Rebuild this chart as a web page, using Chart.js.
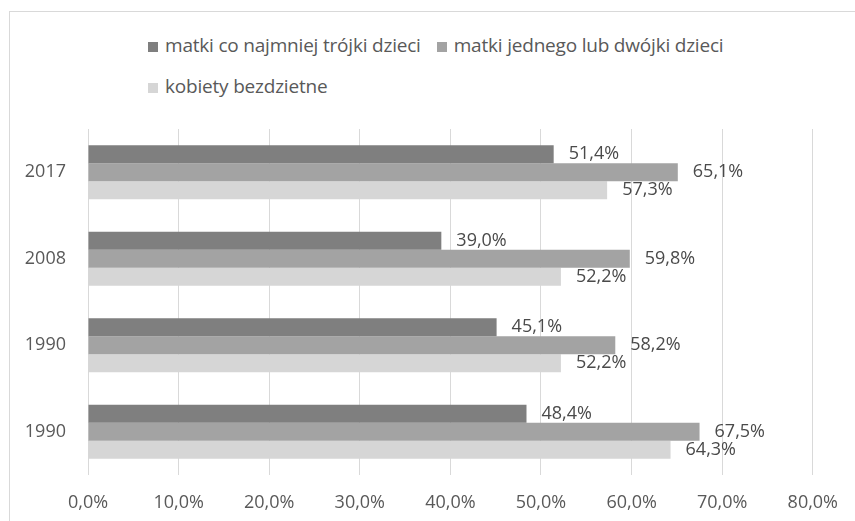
<!DOCTYPE html>
<html>
<head>
<meta charset="utf-8">
<script src="https://cdn.jsdelivr.net/npm/chart.js@4.4.0/dist/chart.umd.min.js"></script>
<style>
  body { margin: 0; background: #fff; font-family: "Open Sans", sans-serif; }
  #wrap { position: relative; width: 855px; height: 521px; overflow: hidden; }
  #frame { position: absolute; left: 9px; top: 11px; right: -2px; bottom: -2px;
           border-top: 1px solid #d9d9d9; border-left: 1px solid #d9d9d9; }
  #legend { position: absolute; left: 148px; top: 30px; width: 640px; color: #595959;
            font-size: 19px; letter-spacing: -0.2px; }
  #legend .item { display: inline-block; height: 41px; line-height: 30px; margin-right: 16px; white-space: nowrap; }
  #legend .box { display: inline-block; width: 10px; height: 10px; margin-right: 7px; vertical-align: 0; }
  canvas { position: absolute; left: 0; top: 0; }
</style>
</head>
<body>
<div id="wrap">
  <div id="frame"></div>
  <div id="legend"></div>
  <canvas id="bars" width="855" height="521"></canvas>
</div>
<script>
const years = ['2017', '2008', '1990', '1990'];
const seriesNames = ['matki co najmniej trójki dzieci', 'matki jednego lub dwójki dzieci', 'kobiety bezdzietne'];
const threePlus = [51.4, 39.0, 45.1, 48.4];
const oneOrTwo = [65.1, 59.8, 58.2, 67.5];
const childless = [57.3, 52.2, 52.2, 64.3];
const colors = ['#7f7f7f', '#a3a3a3', '#d6d6d6'];

const pct = v => v.toFixed(1).replace('.', ',') + '%';

// values written just past the end of each bar
const barValues = {
  id: 'barValues',
  afterDatasetsDraw(chart) {
    const ctx = chart.ctx;
    ctx.save();
    ctx.font = '18px "Open Sans"';
    ctx.fillStyle = '#4a4a4a';
    ctx.textAlign = 'left';
    ctx.textBaseline = 'middle';
    chart.data.datasets.forEach((ds, i) => {
      chart.getDatasetMeta(i).data.forEach((bar, j) => {
        ctx.fillText(pct(ds.data[j]), bar.x + 15, bar.y);
      });
    });
    ctx.restore();
  }
};

const chart = new Chart(document.getElementById('bars').getContext('2d'), {
  type: 'bar',
  data: {
    labels: years,
    datasets: [
      { label: seriesNames[0], data: threePlus, backgroundColor: colors[0] },
      { label: seriesNames[1], data: oneOrTwo, backgroundColor: colors[1] },
      { label: seriesNames[2], data: childless, backgroundColor: colors[2] }
    ]
  },
  options: {
    indexAxis: 'y',
    responsive: false,
    animation: false,
    categoryPercentage: 0.625,
    barPercentage: 1.0,
    layout: { padding: { top: 129, right: 42, bottom: 0, left: 0 } },
    plugins: { legend: { display: false }, tooltip: { enabled: false } },
    scales: {
      x: {
        min: 0, max: 80,
        ticks: { stepSize: 10, padding: 17, color: '#595959',
                 font: { family: 'Open Sans', size: 18 }, callback: v => pct(v) },
        grid: { color: '#d9d9d9', drawTicks: false },
        border: { display: false },
        afterFit: s => { s.height = 46; }
      },
      y: {
        ticks: { padding: 14, color: '#595959', font: { family: 'Open Sans', size: 18 } },
        grid: { display: false },
        border: { display: false },
        afterFit: s => { s.width = 88; }
      }
    }
  },
  plugins: [barValues]
});

// legend built from the same datasets
const legend = document.getElementById('legend');
chart.data.datasets.forEach(ds => {
  const item = document.createElement('span');
  item.className = 'item';
  item.innerHTML = '<span class="box" style="background:' + ds.backgroundColor + '"></span>' + ds.label;
  legend.appendChild(item);
});
</script>
</body>
</html>
